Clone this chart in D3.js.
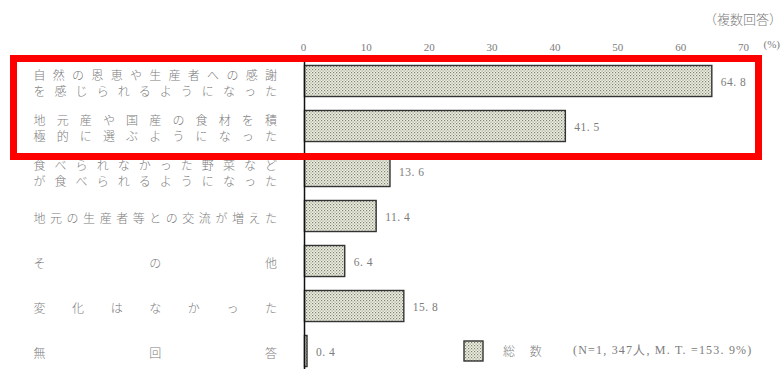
<!DOCTYPE html>
<html><head><meta charset="utf-8">
<script src="https://cdn.jsdelivr.net/npm/d3@7"></script>
<style>body{margin:0;background:#fff;}svg{display:block;}</style>
</head><body>
<script>
const categories = [
  ["自然の恩恵や生産者への感謝","を感じられるようになった"],
  ["地元産や国産の食材を積","極的に選ぶようになった"],
  ["食べられなかった野菜など","が食べられるようになった"],
  ["地元の生産者等との交流が増えた"],
  ["その他"],
  ["変化はなかった"],
  ["無回答"]
];
const values = [64.8, 41.5, 13.6, 11.4, 6.4, 15.8, 0.4];
const tickValues = [0,10,20,30,40,50,60,70];
const legendLabel = "総　数";
const legendNote = "(N=1,347人, M.T.=153.9%)";
const noteTop = "（複数回答）";
const unitLabel = "(%)";

const W = 782, H = 369;
const svg = d3.select("body").append("svg").attr("width", W).attr("height", H);
const defs = svg.append("defs");
const pat = defs.append("pattern").attr("id","dots").attr("patternUnits","userSpaceOnUse")
  .attr("width",3).attr("height",3);
pat.append("rect").attr("width",3).attr("height",3).attr("fill","#eef0e2");
pat.append("rect").attr("x",0).attr("y",0).attr("width",1.2).attr("height",1.2).attr("fill","#7d8272");
pat.append("rect").attr("x",1.5).attr("y",1.5).attr("width",1.2).attr("height",1.2).attr("fill","#9a9e8e");

const x = d3.scaleLinear().domain([0,70]).range([304.5, 744.5]);
const y = d3.scaleBand().domain(d3.range(categories.length)).range([58.5, 373.5])
  .paddingInner(0.31).paddingOuter(0.155);

const serif = "'Liberation Serif','DejaVu Serif',serif";
const cjk = "'Noto Sans CJK JP','Noto Sans CJK SC',sans-serif";
const grey = "#7c7c7c";

// top-right note
svg.append("text").attr("x", 782).attr("y", 18).attr("text-anchor","end")
  .attr("font-family", cjk).attr("font-size", 13).attr("font-weight", 300).attr("fill", grey)
  .attr("dominant-baseline","central").text(noteTop);

// axis tick labels
const axis = d3.axisTop(x).tickValues(tickValues).tickSize(3).tickFormat(d3.format("d"));
const ag = svg.append("g").attr("transform","translate(0,62)").call(axis);
ag.select(".domain").remove();
ag.selectAll(".tick line").attr("stroke","#999");
ag.selectAll(".tick text").attr("font-family", serif).attr("font-size", 11)
  .attr("fill", grey).attr("x", -1.5).attr("y", -15).attr("dy","0").attr("dominant-baseline","central");
svg.append("text").attr("x", 780).attr("y", 44).attr("text-anchor","end").attr("font-family", serif)
  .attr("font-size", 11).attr("fill", grey).attr("dominant-baseline","central").text(unitLabel);

// category labels, justified per character
const L = 39.5, R = 271;
categories.forEach((lines, i) => {
  const cy = y(i) + y.bandwidth()/2;
  const offs = lines.length === 2 ? [-7, 9] : [1];
  lines.forEach((line, j) => {
    const chars = Array.from(line).filter(c => c !== "　");
    const n = chars.length;
    chars.forEach((c, k) => {
      svg.append("text").attr("x", n === 1 ? (L+R)/2 : L + k*(R-L)/(n-1))
        .attr("y", cy + offs[j]).attr("text-anchor","middle")
        .attr("dominant-baseline","central").attr("font-family", cjk)
        .attr("font-size", 12).attr("font-weight", 300).attr("fill", grey).text(c);
    });
  });
});

// bars
svg.selectAll("rect.bar").data(values).join("rect").attr("class","bar")
  .attr("x", x(0)).attr("y", (d,i) => y(i))
  .attr("width", d => x(d) - x(0)).attr("height", y.bandwidth())
  .attr("fill","url(#dots)").attr("stroke","#333").attr("stroke-width",1.4);

// value labels
svg.selectAll("text.val").data(values).join("text").attr("class","val")
  .attr("x", d => x(d) + 9).attr("y", (d,i) => y(i) + y.bandwidth()/2 + 1)
  .attr("dominant-baseline","central").attr("font-family", serif)
  .attr("font-size", 11.5).attr("fill", grey).attr("letter-spacing", 0.5)
  .text(d => d3.format(".1f")(d).replace(".", ". "));

// axis line
svg.append("line").attr("x1", x(0)).attr("x2", x(0)).attr("y1", 58).attr("y2", H)
  .attr("stroke","#111").attr("stroke-width",1.5);

// legend
svg.append("rect").attr("x",464).attr("y",341).attr("width",19).attr("height",20)
  .attr("fill","url(#dots)").attr("stroke","#333").attr("stroke-width",1.4);
svg.append("text").attr("x",503).attr("y",350).attr("dominant-baseline","central")
  .attr("font-family", cjk).attr("font-size",12).attr("font-weight", 300).attr("fill",grey)
  .attr("xml:space","preserve").text(legendLabel.replace("　","　 "));
svg.append("text").attr("x",573).attr("y",350).attr("dominant-baseline","central")
  .attr("font-family", serif).attr("font-size",12).attr("letter-spacing",1.2).attr("fill",grey)
  .text(legendNote.replace(/,/g, ", ").replace("M.T.", "M. T. ").replace("153.9", "153. 9"));

// red highlight rectangle
svg.append("rect").attr("x",13.5).attr("y",58.5).attr("width",745).attr("height",98)
  .attr("fill","none").attr("stroke","#ff0000").attr("stroke-width",7);
</script>
</body></html>
